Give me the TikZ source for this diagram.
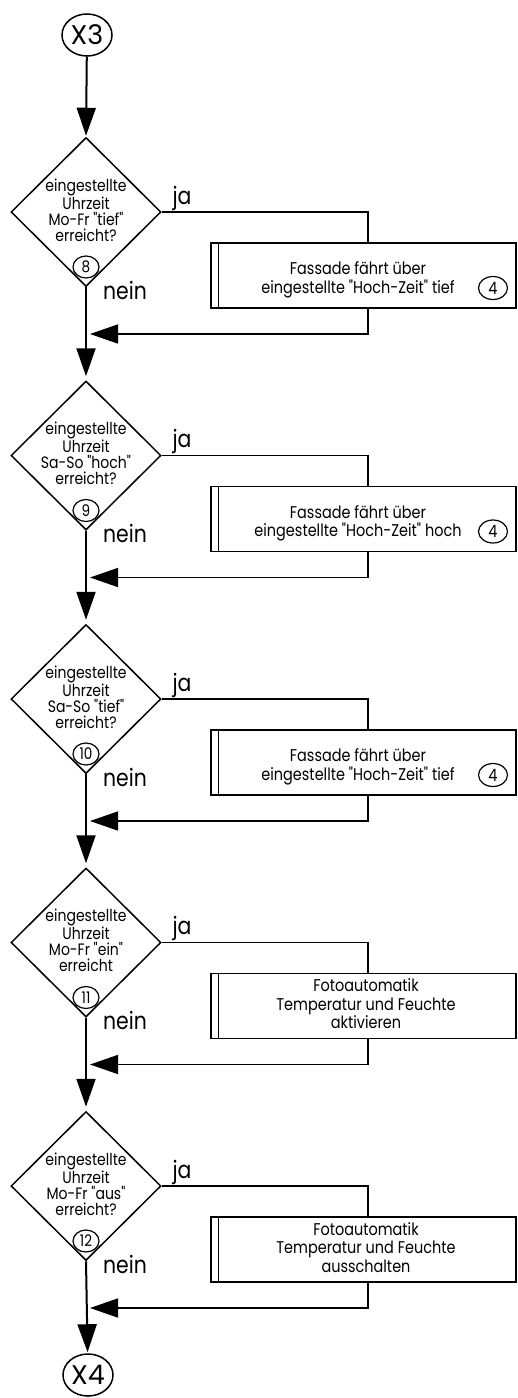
\documentclass[tikz,border=0pt]{standalone}
\usepackage{fontspec}
\setmainfont{Poppins}
\newfontfamily\narrowfont{Poppins}[FakeStretch=0.85]
\newcommand\dq{\symbol{34}}
\usetikzlibrary{arrows.meta,shapes.geometric}

\tikzset{
  flow/.style={line width=1.6pt},
  axis/.style={line width=2pt},
  tip/.style={-{Triangle[length=28pt,width=19pt]}},
  connector/.style={draw, ellipse, line width=1.5pt, minimum width=50pt, minimum height=42pt, inner sep=0pt,
    font=\fontsize{27}{28}\selectfont},
  decision/.style={draw, diamond, line width=1.5pt, minimum width=150pt, minimum height=149pt, inner sep=0pt},
  question/.style={align=center, inner sep=0pt, font=\narrowfont\fontsize{16.5}{16}\selectfont},
  stepno/.style={draw, ellipse, line width=1.2pt, minimum width=26pt, minimum height=22pt, inner sep=0pt,
    font=\narrowfont\fontsize{16}{16}\selectfont},
  process/.style={draw, rectangle, line width=1.6pt, minimum width=305pt, minimum height=65pt, inner sep=0pt},
  action/.style={align=center, inner sep=0pt, font=\narrowfont\fontsize{17}{18.5}\selectfont},
  refno/.style={draw, ellipse, line width=1.2pt, minimum width=29pt, minimum height=23pt, inner sep=0pt,
    font=\narrowfont\fontsize{17}{17}\selectfont},
  answer/.style={inner sep=0pt, font=\narrowfont\fontsize{24}{26}\selectfont}
}

\begin{document}
\begin{tikzpicture}[x=1pt, y=-1pt]
\useasboundingbox (0,0) rectangle (518,1398);

% start connector
\node[connector] (x3) at (87,35) {X3};

% ---------- decision 8 ----------
\node[decision] (d1) at (86,212) {};
\node[question] (q1) at (86,210) {eingestellte\\Uhrzeit\\Mo-Fr \dq tief\dq\\erreicht?};
\node[stepno] (s1) at (86,267) {8};
\node[process] (b1) at (363.5,275.5) {};
\draw[line width=1.2pt] ([xshift=8pt]b1.north west) -- ([xshift=8pt]b1.south west);
\node[action] (a1) at (358,280) {Fassade fährt über\\eingestellte \dq Hoch-Zeit\dq\ tief};
\node[refno] (r1) at (493,288) {4};
\node[answer] (j1) at (182,198) {ja};
\node[answer] (n1) at (125,290) {nein};
\coordinate (m1) at (90,334);

% ---------- decision 9 ----------
\node[decision] (d2) at (86,455.5) {};
\node[question] (q2) at (86,453.5) {eingestellte\\Uhrzeit\\Sa-So \dq hoch\dq\\erreicht?};
\node[stepno] (s2) at (86,510.5) {9};
\node[process] (b2) at (363.5,519) {};
\draw[line width=1.2pt] ([xshift=8pt]b2.north west) -- ([xshift=8pt]b2.south west);
\node[action] (a2) at (358,523.5) {Fassade fährt über\\eingestellte \dq Hoch-Zeit\dq\ hoch};
\node[refno] (r2) at (493,531.5) {4};
\node[answer] (j2) at (182,441.5) {ja};
\node[answer] (n2) at (125,533.5) {nein};
\coordinate (m2) at (90,577.5);

% ---------- decision 10 ----------
\node[decision] (d3) at (86,699) {};
\node[question] (q3) at (86,697) {eingestellte\\Uhrzeit\\Sa-So \dq tief\dq\\erreicht?};
\node[stepno] (s3) at (86,754) {10};
\node[process] (b3) at (363.5,762.5) {};
\draw[line width=1.2pt] ([xshift=8pt]b3.north west) -- ([xshift=8pt]b3.south west);
\node[action] (a3) at (358,767) {Fassade fährt über\\eingestellte \dq Hoch-Zeit\dq\ tief};
\node[refno] (r3) at (493,775) {4};
\node[answer] (j3) at (182,685) {ja};
\node[answer] (n3) at (125,777) {nein};
\coordinate (m3) at (90,821);

% ---------- decision 11 ----------
\node[decision] (d4) at (86,942.5) {};
\node[question] (q4) at (86,940.5) {eingestellte\\Uhrzeit\\Mo-Fr \dq ein\dq\\erreicht};
\node[stepno] (s4) at (86,997.5) {11};
\node[process] (b4) at (363.5,1006) {};
\draw[line width=1.2pt] ([xshift=8pt]b4.north west) -- ([xshift=8pt]b4.south west);
\node[action] (a4) at (366,1004) {Fotoautomatik\\Temperatur und Feuchte\\aktivieren};
\node[answer] (j4) at (182,928.5) {ja};
\node[answer] (n4) at (125,1020.5) {nein};
\coordinate (m4) at (90,1064.5);

% ---------- decision 12 ----------
\node[decision] (d5) at (86,1186) {};
\node[question] (q5) at (86,1184) {eingestellte\\Uhrzeit\\Mo-Fr \dq aus\dq\\erreicht?};
\node[stepno] (s5) at (86,1241) {12};
\node[process] (b5) at (363.5,1249.5) {};
\draw[line width=1.2pt] ([xshift=8pt]b5.north west) -- ([xshift=8pt]b5.south west);
\node[action] (a5) at (366,1247.5) {Fotoautomatik\\Temperatur und Feuchte\\ausschalten};
\node[answer] (j5) at (182,1172) {ja};
\node[answer] (n5) at (125,1264) {nein};
\coordinate (m5) at (90,1308);

% end connector
\node[connector] (x4) at (88,1375) {X4};

% main flow ("nein" path)
\draw[axis, tip, shorten >=1pt] (x3) -- (d1.north);
\draw[axis, tip, shorten >=4pt] (d1.south) -- (d2.north);
\draw[axis, tip, shorten >=4pt] (d2.south) -- (d3.north);
\draw[axis, tip, shorten >=4pt] (d3.south) -- (d4.north);
\draw[axis, tip, shorten >=4pt] (d4.south) -- (d5.north);
\draw[axis, tip, shorten >=1pt] (d5.south) -- (x4);

% "ja" branches into the action boxes and back
\draw[flow] (d1.east) -| ([xshift=4.5pt]b1.north);
\draw[flow, tip] ([xshift=4.5pt]b1.south) |- (m1);
\draw[flow] (d2.east) -| ([xshift=4.5pt]b2.north);
\draw[flow, tip] ([xshift=4.5pt]b2.south) |- (m2);
\draw[flow] (d3.east) -| ([xshift=4.5pt]b3.north);
\draw[flow, tip] ([xshift=4.5pt]b3.south) |- (m3);
\draw[flow] (d4.east) -| ([xshift=4.5pt]b4.north);
\draw[flow, tip] ([xshift=4.5pt]b4.south) |- (m4);
\draw[flow] (d5.east) -| ([xshift=4.5pt]b5.north);
\draw[flow, tip] ([xshift=4.5pt]b5.south) |- (m5);
\end{tikzpicture}
\end{document}
